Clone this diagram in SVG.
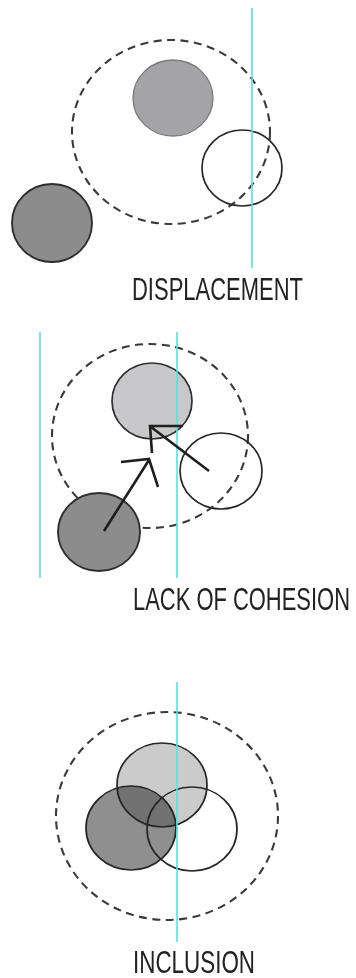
<svg xmlns="http://www.w3.org/2000/svg" width="356" height="978" viewBox="0 0 356 978">
<style>
.guide{stroke:#5fdde0;stroke-width:1.6;fill:none}
.dash{fill:none;stroke:#3a3a3a;stroke-width:2.1;stroke-dasharray:8 5.5}
.open{fill:none;stroke:#262626;stroke-width:1.7}
.light{fill:#c8c8ca;stroke:#2e2e2e;stroke-width:1.7}
.mid{fill:#a4a4a7;stroke:#7a7a7a;stroke-width:1.3}
.dark{fill:#8c8c8c;stroke:#2e2e2e;stroke-width:1.9}
.arrow{fill:none;stroke:#1e1e1e;stroke-width:2.6;stroke-linecap:butt}
.label{font-family:"Liberation Sans","DejaVu Sans Condensed",sans-serif;font-size:31.5px;fill:#222}
</style>
<rect width="356" height="978" fill="#ffffff"/>

<g id="displacement">
  <ellipse class="dash" cx="171" cy="132" rx="99" ry="92"/>
  <ellipse id="d-gray" class="mid" cx="173" cy="98" rx="40" ry="38"/>
  <ellipse id="d-open" class="open" cx="242" cy="168" rx="40" ry="38"/>
  <ellipse id="d-dark" class="dark" cx="52" cy="223" rx="40" ry="39"/>
  <line class="guide" x1="252" y1="8" x2="252" y2="268"/>
  <text class="label" transform="translate(132 300) scale(0.71 1)" x="0" y="0" textLength="240.8" lengthAdjust="spacingAndGlyphs">DISPLACEMENT</text>
</g>

<g id="lack-of-cohesion">
  <ellipse class="dash" cx="150" cy="436" rx="98" ry="92"/>
  <ellipse id="c-light" class="light" cx="152" cy="401" rx="40" ry="38"/>
  <ellipse id="c-open" class="open" cx="221" cy="471" rx="41" ry="38"/>
  <ellipse id="c-dark" class="dark" cx="99" cy="532" rx="41" ry="39"/>
  <line class="guide" x1="40" y1="332" x2="40" y2="578"/>
  <line class="guide" x1="177" y1="332" x2="177" y2="578"/>
  <text class="label" transform="translate(133 610) scale(0.71 1)" x="0" y="0" textLength="305.6" lengthAdjust="spacingAndGlyphs">LACK OF COHESION</text>
</g>

<g id="connectors">
  <polyline class="arrow" points="104,531 149,460"/>
  <polyline class="arrow" points="121,462 149,459 158,487"/>
  <polyline class="arrow" points="209,471 151,427"/>
  <polyline class="arrow" points="183,426 150,426 152,453"/>
</g>

<g id="inclusion">
  <ellipse class="dash" cx="167" cy="816" rx="111" ry="104"/>
  <ellipse id="i-light" cx="162" cy="785" rx="45" ry="42" fill="#cbcbcb"/>
  <ellipse id="i-dark" cx="131" cy="828" rx="45" ry="42" fill="#8f8f8f" style="mix-blend-mode:multiply"/>
  <ellipse class="open" cx="162" cy="785" rx="45" ry="42"/>
  <ellipse class="open" cx="131" cy="828" rx="45" ry="42"/>
  <ellipse id="i-open" class="open" cx="192" cy="829" rx="45" ry="42"/>
  <line class="guide" x1="177" y1="682" x2="177" y2="942"/>
  <text class="label" transform="translate(133 973) scale(0.71 1)" x="0" y="0" textLength="171.8" lengthAdjust="spacingAndGlyphs">INCLUSION</text>
</g>
</svg>
